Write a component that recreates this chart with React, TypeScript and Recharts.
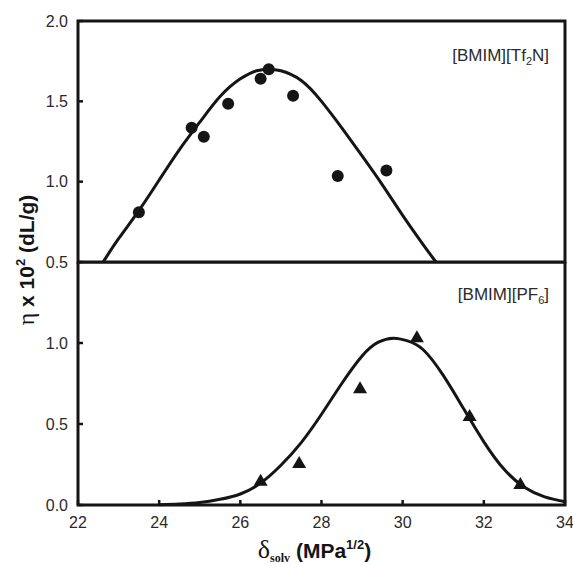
import {
  ComposedChart,
  Line,
  Scatter,
  XAxis,
  YAxis,
  ReferenceArea,
} from "recharts";

// δ ticks shared by both panels
const xTicks = [22, 24, 26, 28, 30, 32, 34];
const topTicks = [0.5, 1.0, 1.5, 2.0];
const bottomTicks = [0.0, 0.5, 1.0];

// [BMIM][Tf2N] measured points
const tf2nPoints = [
  { x: 23.5, y: 0.81 },
  { x: 24.8, y: 1.335 },
  { x: 25.1, y: 1.28 },
  { x: 25.7, y: 1.485 },
  { x: 26.5, y: 1.64 },
  { x: 26.7, y: 1.7 },
  { x: 27.3, y: 1.535 },
  { x: 28.4, y: 1.035 },
  { x: 29.6, y: 1.07 },
];

// [BMIM][Tf2N] fitted curve
const tf2nCurve = [
  { x: 22.62, y: 0.5 },
  { x: 23.0, y: 0.645 },
  { x: 23.5, y: 0.82 },
  { x: 24.0, y: 1.01 },
  { x: 24.5, y: 1.2 },
  { x: 25.0, y: 1.37 },
  { x: 25.5, y: 1.53 },
  { x: 26.0, y: 1.64 },
  { x: 26.4, y: 1.69 },
  { x: 26.7, y: 1.7 },
  { x: 27.0, y: 1.69 },
  { x: 27.5, y: 1.63 },
  { x: 28.0, y: 1.5 },
  { x: 28.5, y: 1.335 },
  { x: 29.0, y: 1.16 },
  { x: 29.5, y: 0.98 },
  { x: 30.0, y: 0.79 },
  { x: 30.5, y: 0.61 },
  { x: 30.82, y: 0.5 },
];

// [BMIM][PF6] measured points
const pf6Points = [
  { x: 26.5, y: 0.15 },
  { x: 27.45, y: 0.26 },
  { x: 28.95, y: 0.72 },
  { x: 30.35, y: 1.035 },
  { x: 31.65, y: 0.55 },
  { x: 32.9, y: 0.13 },
];

// [BMIM][PF6] fitted curve
const pf6Curve = [
  { x: 24.0, y: 0.002 },
  { x: 24.5, y: 0.006 },
  { x: 25.0, y: 0.015 },
  { x: 25.5, y: 0.035 },
  { x: 26.0, y: 0.068 },
  { x: 26.5, y: 0.135 },
  { x: 27.0, y: 0.245 },
  { x: 27.5, y: 0.385 },
  { x: 28.0, y: 0.56 },
  { x: 28.5, y: 0.75 },
  { x: 29.0, y: 0.92 },
  { x: 29.4, y: 1.005 },
  { x: 29.77, y: 1.03 },
  { x: 30.1, y: 1.015 },
  { x: 30.5, y: 0.96 },
  { x: 31.0, y: 0.8 },
  { x: 31.5, y: 0.595 },
  { x: 32.0, y: 0.39 },
  { x: 32.5, y: 0.22 },
  { x: 33.0, y: 0.11 },
  { x: 33.5, y: 0.05 },
  { x: 34.0, y: 0.02 },
];

const INK = "#151515";
const SANS = "'Liberation Sans', Arial, sans-serif";
const SERIF = "'Liberation Serif', 'Times New Roman', serif";

const tickStyle = { fontSize: 16, fill: "#2a2a2a", fontFamily: SANS };
const fmt = (v: number) => v.toFixed(1);

const Dot = (props: any) => <circle cx={props.cx} cy={props.cy} r={6} fill={INK} />;

const Tri = (props: any) => {
  const { cx, cy } = props;
  return (
    <path
      d={`M${cx},${cy - 7} L${cx + 7},${cy + 5} L${cx - 7},${cy + 5} Z`}
      fill={INK}
    />
  );
};

function panelLabel(main: string, sub: string, tail: string, dy: number) {
  return (p: any) => {
    const vb = p.viewBox;
    return (
      <text
        x={vb.x + vb.width - 16}
        y={vb.y + dy}
        textAnchor="end"
        fontSize={17}
        fontFamily={SANS}
        fill="#2a2a2a"
      >
        {main}
        <tspan fontSize={11} dy={4}>
          {sub}
        </tspan>
        <tspan dy={-4}>{tail}</tspan>
      </text>
    );
  };
}

const XTitle = (p: any) => {
  const vb = p.viewBox;
  return (
    <text x={vb.x + vb.width / 2 - 7} y={vb.y + 53} textAnchor="middle" fill={INK}>
      <tspan fontFamily={SERIF} fontSize={26}>
        δ
      </tspan>
      <tspan fontFamily={SERIF} fontWeight="bold" fontSize={12} dy={4}>
        solv
      </tspan>
      <tspan fontFamily={SANS} fontWeight="bold" fontSize={21} dy={-4}>
        {" (MPa"}
      </tspan>
      <tspan fontFamily={SANS} fontWeight="bold" fontSize={13} dy={-9}>
        1/2
      </tspan>
      <tspan fontFamily={SANS} fontWeight="bold" fontSize={21} dy={9}>
        )
      </tspan>
    </text>
  );
};

export default function App() {
  return (
    <div style={{ position: "absolute", left: 0, top: 0, width: 573, height: 564 }}>
      <div style={{ position: "absolute", left: 0, top: 0 }}>
        <ComposedChart width={573} height={290} margin={{ top: 21, right: 8, bottom: 28, left: 0 }}>
          <XAxis
            type="number"
            dataKey="x"
            domain={[22, 34]}
            ticks={xTicks}
            height={0}
            tick={false}
            tickSize={-5}
            axisLine={false}
            tickLine={{ stroke: INK, strokeWidth: 2.5 }}
          />
          <YAxis
            type="number"
            dataKey="y"
            domain={[0.5, 2]}
            ticks={topTicks}
            width={78}
            tickFormatter={fmt}
            tick={tickStyle}
            tickSize={-5}
            tickMargin={15}
            axisLine={false}
            tickLine={{ stroke: INK, strokeWidth: 2.5 }}
          />
          <ReferenceArea
            x1={22}
            x2={34}
            y1={0.5}
            y2={2}
            fill="none"
            stroke={INK}
            strokeWidth={3}
            fillOpacity={0}
            label={{ content: panelLabel("[BMIM][Tf", "2", "N]", 40) }}
          />
          <Line
            data={tf2nCurve}
            dataKey="y"
            type="natural"
            dot={false}
            stroke={INK}
            strokeWidth={3}
            isAnimationActive={false}
          />
          <Scatter data={tf2nPoints} dataKey="y" shape={Dot} isAnimationActive={false} />
        </ComposedChart>
      </div>
      <div style={{ position: "absolute", left: 0, top: 262 }}>
        <ComposedChart width={573} height={302} margin={{ top: 0, right: 8, bottom: 0, left: 0 }}>
          <XAxis
            type="number"
            dataKey="x"
            domain={[22, 34]}
            ticks={xTicks}
            height={59}
            tick={tickStyle}
            tickSize={-5}
            tickMargin={17}
            axisLine={false}
            tickLine={{ stroke: INK, strokeWidth: 2.5 }}
            label={{ content: XTitle }}
          />
          <YAxis
            type="number"
            dataKey="y"
            domain={[0, 1.5]}
            ticks={bottomTicks}
            width={78}
            tickFormatter={fmt}
            tick={tickStyle}
            tickSize={-5}
            tickMargin={15}
            axisLine={false}
            tickLine={{ stroke: INK, strokeWidth: 2.5 }}
          />
          <ReferenceArea
            x1={22}
            x2={34}
            y1={0}
            y2={1.5}
            fill="none"
            stroke={INK}
            strokeWidth={3}
            fillOpacity={0}
            label={{ content: panelLabel("[BMIM][PF", "6", "]", 38) }}
          />
          <Line
            data={pf6Curve}
            dataKey="y"
            type="natural"
            dot={false}
            stroke={INK}
            strokeWidth={3}
            isAnimationActive={false}
          />
          <Scatter data={pf6Points} dataKey="y" shape={Tri} isAnimationActive={false} />
        </ComposedChart>
      </div>
      <svg
        width={60}
        height={564}
        style={{ position: "absolute", left: 0, top: 0, pointerEvents: "none" }}
      >
        <text
          transform="translate(34,260) rotate(-90)"
          textAnchor="middle"
          fill={INK}
          fontFamily={SANS}
          fontWeight="bold"
          fontSize={21}
        >
          <tspan fontFamily={SERIF} fontWeight="normal" fontSize={24}>
            η
          </tspan>
          <tspan>{" x 10"}</tspan>
          <tspan fontSize={13} dy={-9}>
            2
          </tspan>
          <tspan dy={9}>{" (dL/g)"}</tspan>
        </text>
      </svg>
    </div>
  );
}
